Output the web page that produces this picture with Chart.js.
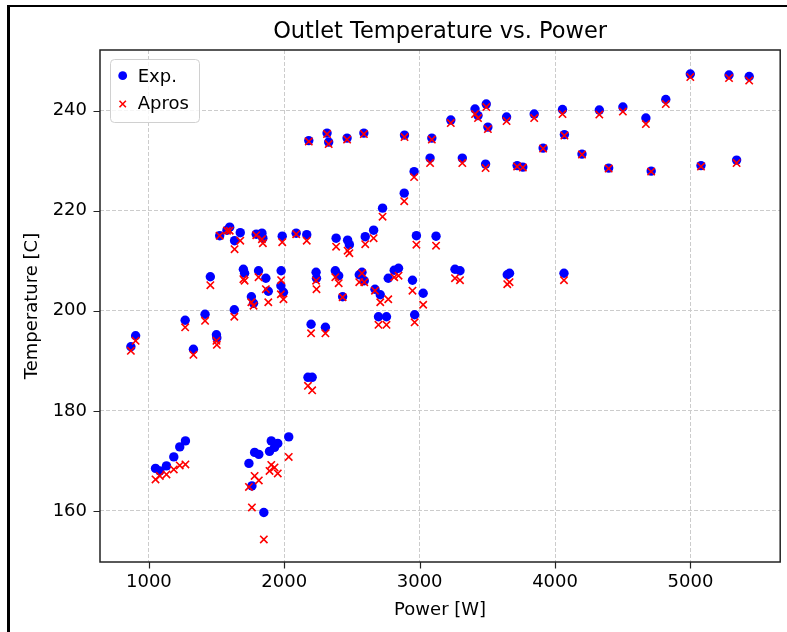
<!DOCTYPE html>
<html>
<head>
<meta charset="utf-8">
<title>Outlet Temperature vs. Power</title>
<script src="https://cdn.jsdelivr.net/npm/chart.js@4/dist/chart.umd.min.js"></script>
<style>
  html, body { margin: 0; padding: 0; background: #fff; }
  #wrap { width: 787px; height: 632px; }
</style>
</head>
<body>
<div id="wrap"><canvas id="scatter-chart" width="787" height="632"></canvas></div>
<script>
// power [W], shared by both series
var power = [867, 902, 1049, 1081, 1130, 1184, 1228, 1270, 1268, 1329,
    1415, 1454, 1499, 1502, 1523, 1577, 1597, 1631, 1633, 1675,
    1698, 1707, 1739, 1757, 1761, 1773, 1781, 1793, 1810, 1812,
    1835, 1842, 1849, 1864, 1882, 1891, 1904, 1928, 1952, 1977,
    1975, 1994, 1985, 2033, 2088, 2166, 2175, 2206, 2181, 2198,
    2235, 2238, 2304, 2316, 2328, 2377, 2383, 2402, 2431, 2464,
    2468, 2481, 2554, 2574, 2591, 2588, 2598, 2660, 2670, 2696,
    2709, 2726, 2755, 2768, 2812, 2844, 2888, 2886, 2947, 2959,
    2963, 2976, 3026, 3077, 3090, 3121, 3230, 3261, 3298, 3315,
    3409, 3431, 3487, 3492, 3504, 3642, 3647, 3664, 3720, 3762,
    3846, 3912, 4055, 4069, 4066, 4199, 4327, 4396, 4501, 4671,
    4710, 4818, 4999, 5078, 5285, 5341, 5434];

// measured outlet temperature [C]
var expTemp = [192.8, 195.0, 168.5, 168.0, 169.0, 170.8, 172.8, 174.0, 198.1, 192.3,
    199.3, 206.8, 195.2, 194.6, 215.0, 216.1, 216.7, 200.2, 214.0, 215.6,
    208.3, 207.5, 169.5, 202.8, 165.0, 201.5, 171.7, 215.3, 208.0, 171.3,
    215.5, 214.5, 159.7, 206.5, 203.9, 171.9, 174.0, 172.7, 173.5, 208.0,
    205.0, 203.7, 214.9, 174.8, 215.5, 215.2, 186.7, 186.7, 234.0, 197.3,
    207.7, 206.5, 196.7, 235.5, 233.7, 208.0, 214.5, 207.0, 202.8, 234.5,
    214.1, 213.2, 207.2, 207.7, 206.0, 235.5, 214.8, 216.1, 204.3, 198.8,
    203.2, 220.5, 198.8, 206.5, 208.1, 208.5, 235.1, 223.5, 206.1, 227.8,
    199.2, 215.0, 203.5, 230.5, 234.5, 214.9, 238.1, 208.3, 208.0, 230.5,
    240.3, 239.0, 229.3, 241.3, 236.7, 238.7, 207.2, 207.5, 229.0, 228.7,
    239.3, 232.5, 240.2, 235.2, 207.5, 231.3, 240.1, 228.5, 240.7, 238.5,
    227.9, 242.2, 247.3, 229.0, 247.1, 230.1, 246.8];

// simulated (Apros) outlet temperature [C]
var aprosTemp = [192.0, 194.0, 166.3, 167.0, 167.3, 168.3, 169.1, 169.3, 196.7, 191.2,
    198.0, 205.1, 194.0, 193.2, 215.0, 216.0, 216.0, 198.8, 212.3, 214.0,
    206.3, 206.0, 164.8, 201.7, 160.7, 201.0, 167.0, 215.1, 206.7, 166.1,
    214.3, 213.5, 154.3, 204.3, 201.7, 168.0, 169.2, 168.7, 167.5, 206.1,
    203.3, 202.3, 213.7, 170.8, 215.3, 214.0, 185.0, 184.1, 233.8, 195.5,
    206.0, 204.3, 195.5, 235.3, 233.3, 206.7, 212.8, 205.5, 202.7, 234.2,
    212.0, 211.5, 205.7, 207.5, 205.7, 235.3, 213.3, 214.5, 204.0, 197.2,
    201.7, 218.8, 197.2, 202.3, 206.7, 207.0, 234.7, 221.9, 204.0, 226.7,
    197.7, 213.2, 201.2, 229.5, 234.2, 213.0, 237.5, 206.5, 206.1, 229.5,
    239.3, 238.5, 228.5, 240.7, 236.3, 237.9, 205.3, 205.7, 228.8, 228.6,
    238.5, 232.4, 239.3, 235.0, 206.1, 231.2, 239.2, 228.4, 239.8, 237.3,
    227.8, 241.3, 246.7, 228.8, 246.5, 229.5, 246.0];

var seriesNames = ['Exp.', 'Apros'];
var xTicks = [1000, 2000, 3000, 4000, 5000];
var yTicks = [160, 180, 200, 220, 240];

var FONT = '"DejaVu Sans", "Liberation Sans", sans-serif';
Chart.defaults.font.family = FONT;
Chart.defaults.color = '#000';

function toPoints(ys) {
    return power.map(function (p, i) {
        return { x: p, y: ys[i] };
    });
}

// title, frame, tick marks and the legend drawn the matplotlib way
var decorPlugin = {
    id: 'decor',
    afterDraw: function (chart) {
        var ctx = chart.ctx;
        var a = chart.chartArea;
        var xs = chart.scales.x;
        var ys = chart.scales.y;
        ctx.save();

        // outer border of the screenshot (top and left only)
        ctx.fillStyle = '#000';
        ctx.fillRect(7, 5, 780, 2);
        ctx.fillRect(7, 5, 3, 627);

        // axes frame
        ctx.strokeStyle = '#222';
        ctx.lineWidth = 1.5;
        ctx.strokeRect(a.left, a.top, a.right - a.left, a.bottom - a.top);

        // tick marks
        ctx.lineWidth = 1.2;
        ctx.beginPath();
        xTicks.forEach(function (v) {
            var px = Math.round(xs.getPixelForValue(v)) + 0.5;
            ctx.moveTo(px, a.bottom);
            ctx.lineTo(px, a.bottom + 6.5);
        });
        yTicks.forEach(function (v) {
            var py = Math.round(ys.getPixelForValue(v)) + 0.5;
            ctx.moveTo(a.left, py);
            ctx.lineTo(a.left - 6.5, py);
        });
        ctx.stroke();

        // title
        ctx.fillStyle = '#000';
        ctx.font = '22.5px ' + FONT;
        ctx.textAlign = 'center';
        ctx.textBaseline = 'alphabetic';
        ctx.fillText('Outlet Temperature vs. Power', (a.left + a.right) / 2, 38);

        // legend
        var lx = 110, ly = 59, lw = 89, lh = 63;
        ctx.beginPath();
        ctx.roundRect(lx + 0.5, ly + 0.5, lw, lh, 4);
        ctx.fillStyle = 'rgba(255,255,255,0.8)';
        ctx.fill();
        ctx.strokeStyle = '#d0d0d0';
        ctx.lineWidth = 1;
        ctx.stroke();

        ctx.fillStyle = 'blue';
        ctx.beginPath();
        ctx.arc(122.7, 75.7, 4.4, 0, Math.PI * 2);
        ctx.fill();

        ctx.strokeStyle = 'red';
        ctx.lineWidth = 1.6;
        ctx.beginPath();
        ctx.moveTo(119.5, 100.8); ctx.lineTo(125.9, 107.2);
        ctx.moveTo(125.9, 100.8); ctx.lineTo(119.5, 107.2);
        ctx.stroke();

        ctx.fillStyle = '#000';
        ctx.font = '18px ' + FONT;
        ctx.textAlign = 'left';
        ctx.fillText(seriesNames[0], 137.7, 82);
        ctx.fillText(seriesNames[1], 137.7, 109);

        ctx.restore();
    }
};

var scatterOptions = {
    type: 'scatter',
    data: {
        datasets: [
            {
                label: seriesNames[0],
                data: toPoints(expTemp),
                pointStyle: 'circle',
                pointRadius: 4.7,
                pointBorderWidth: 0,
                backgroundColor: 'blue',
                borderColor: 'blue',
                order: 2
            },
            {
                label: seriesNames[1],
                data: toPoints(aprosTemp),
                pointStyle: 'crossRot',
                pointRadius: 5.2,
                pointBorderWidth: 1.6,
                backgroundColor: 'red',
                borderColor: 'red',
                order: 1
            }
        ]
    },
    options: {
        responsive: false,
        animation: false,
        events: [],
        layout: {
            padding: { top: 50, right: 5, left: 0, bottom: 0 }
        },
        plugins: {
            legend: { display: false },
            title: { display: false },
            tooltip: { enabled: false }
        },
        scales: {
            x: {
                type: 'linear',
                min: 639,
                max: 5663,
                afterBuildTicks: function (scale) {
                    scale.ticks = xTicks.map(function (v) { return { value: v }; });
                },
                afterFit: function (scale) {
                    scale.height = 70;
                },
                ticks: {
                    maxRotation: 0,
                    padding: 10,
                    font: { size: 18 },
                    callback: function (v) { return String(v); }
                },
                grid: { color: '#cccccc', lineWidth: 1, drawTicks: false },
                border: { display: false, dash: [4, 2] },
                title: {
                    display: true,
                    text: 'Power [W]',
                    font: { size: 18 },
                    padding: { top: 0, bottom: 11 }
                }
            },
            y: {
                type: 'linear',
                min: 149.8,
                max: 252.1,
                afterBuildTicks: function (scale) {
                    scale.ticks = yTicks.map(function (v) { return { value: v }; });
                },
                afterFit: function (scale) {
                    scale.width = 100;
                },
                ticks: {
                    padding: 13,
                    font: { size: 18 },
                    callback: function (v) { return String(v); }
                },
                grid: { color: '#cccccc', lineWidth: 1, drawTicks: false },
                border: { display: false, dash: [4, 2] },
                title: {
                    display: true,
                    text: 'Temperature [C]',
                    font: { size: 18 },
                    padding: { top: 22, bottom: 0 }
                }
            }
        }
    },
    plugins: [decorPlugin]
};

var scatterCtx = document.getElementById('scatter-chart');
var scatterChart = new Chart(scatterCtx, scatterOptions);
</script>
</body>
</html>
